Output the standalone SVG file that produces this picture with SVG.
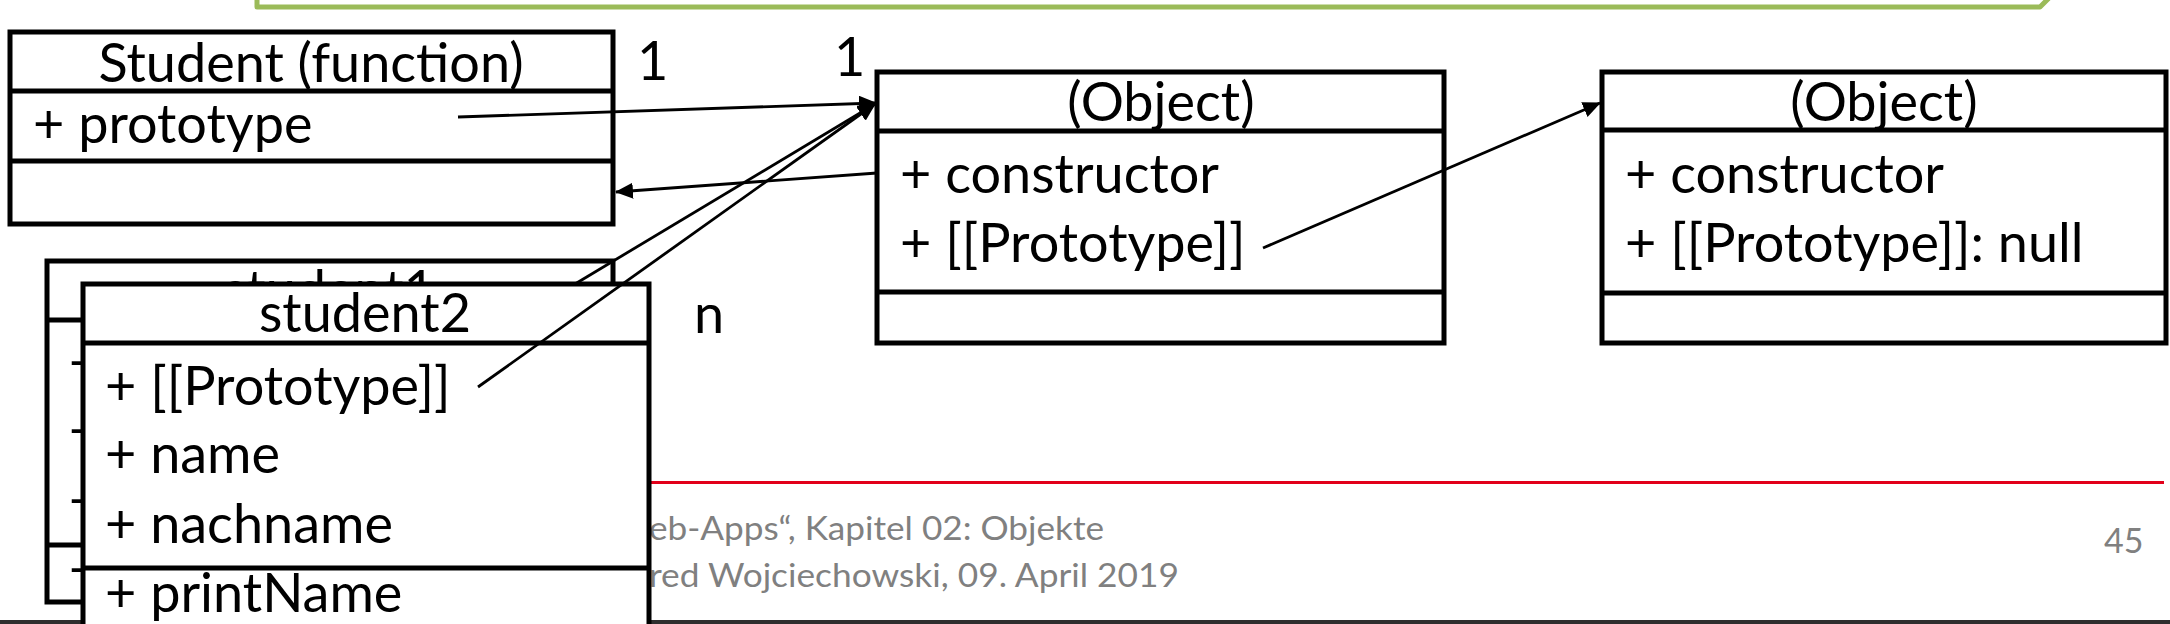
<svg xmlns="http://www.w3.org/2000/svg" width="2170" height="624" viewBox="0 0 2170 624">
<defs>
<style>
.box{fill:#fff;stroke:#000;stroke-width:5}
.dv{stroke:#000;stroke-width:5;fill:none}
.t{font-family:Lato,'Liberation Sans',sans-serif;font-size:54px;fill:#000}
.c{text-anchor:middle}
.conn{stroke:#000;stroke-width:2.8;fill:none;marker-end:url(#ah)}
.foot{font-family:Lato,'Liberation Sans',sans-serif;font-size:32px;fill:#808080}
</style>
<marker id="ah" markerUnits="userSpaceOnUse" markerWidth="20" markerHeight="18" refX="17" refY="8" orient="auto">
<path d="M0,0 L18,8 L0,16 Z" fill="#000"/>
</marker>
</defs>
<rect width="2170" height="624" fill="#fff"/>
<g id="callout">
<path d="M257,-10 L257,7 L2040,7 L2053,-6" fill="none" stroke="#9BBB59" stroke-width="5" stroke-linejoin="round"/>
</g>
<g id="footer">
<line x1="650" y1="482.5" x2="2164" y2="482.5" stroke="#E2001A" stroke-width="3"/>
<text class="foot" x="649" y="540" textLength="455" lengthAdjust="spacingAndGlyphs">eb-Apps“, Kapitel 02: Objekte</text>
<text class="foot" x="649" y="587" textLength="530" lengthAdjust="spacingAndGlyphs">red Wojciechowski, 09. April 2019</text>
<text class="foot" x="2104" y="553" style="font-size:34px">45</text>
<rect x="0" y="620" width="2170" height="4" fill="#2e2e2e"/>
</g>
<g id="student-function">
<rect class="box" x="10" y="32" width="603" height="192"/>
<line class="dv" x1="10" y1="91" x2="613" y2="91"/>
<line class="dv" x1="10" y1="161" x2="613" y2="161"/>
<text class="t c" x="311" y="82">Student (function)</text>
<text class="t" x="33" y="143">+ prototype</text>
</g>
<g id="object1">
<rect class="box" x="877" y="72" width="567" height="271"/>
<line class="dv" x1="877" y1="131" x2="1444" y2="131"/>
<line class="dv" x1="877" y1="292" x2="1444" y2="292"/>
<text class="t c" x="1161" y="121">(Object)</text>
<text class="t" x="900" y="193">+ constructor</text>
<text class="t" x="900" y="262">+ [[Prototype]]</text>
</g>
<g id="object2">
<rect class="box" x="1602" y="72" width="564" height="271"/>
<line class="dv" x1="1602" y1="130" x2="2166" y2="130"/>
<line class="dv" x1="1602" y1="293" x2="2166" y2="293"/>
<text class="t c" x="1884" y="121">(Object)</text>
<text class="t" x="1625" y="193">+ constructor</text>
<text class="t" x="1625" y="262">+ [[Prototype]]: null</text>
</g>
<g id="labels">
<text class="t" x="637" y="80">1</text>
<text class="t" x="834" y="76">1</text>
<text class="t" x="694" y="333">n</text>
</g>
<g id="student1">
<rect class="box" x="47" y="261" width="566" height="341"/>
<line class="dv" x1="47" y1="320" x2="613" y2="320"/>
<line class="dv" x1="47" y1="545" x2="613" y2="545"/>
<text class="t c" x="329" y="309">student1</text>
<text class="t" x="69" y="382">+ [[Prototype]]</text>
<text class="t" x="69" y="450">+ name</text>
<text class="t" x="69" y="520">+ nachname</text>
<text class="t" x="69" y="589">+ printName</text>
</g>
<g id="student2">
<rect class="box" x="83" y="284" width="566" height="380"/>
<line class="dv" x1="83" y1="343" x2="649" y2="343"/>
<line class="dv" x1="83" y1="568" x2="649" y2="568"/>
<text class="t c" x="365" y="332">student2</text>
<text class="t" x="105" y="405">+ [[Prototype]]</text>
<text class="t" x="105" y="473">+ name</text>
<text class="t" x="105" y="543">+ nachname</text>
<text class="t" x="105" y="612">+ printName</text>
</g>
<g id="connectors">
<line class="conn" x1="458" y1="117" x2="876" y2="103"/>
<line class="conn" x1="877" y1="173" x2="616" y2="192"/>
<line class="conn" x1="575" y1="284" x2="875" y2="104"/>
<line class="conn" x1="478" y1="387" x2="875" y2="104"/>
<line class="conn" x1="1263" y1="248" x2="1600" y2="103"/>
</g>
</svg>
